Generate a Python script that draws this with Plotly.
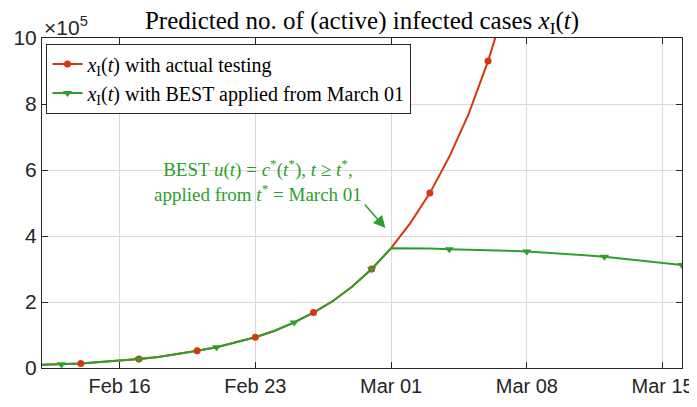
import plotly.graph_objects as go
import pandas as pd

# Dates (2020) and values in units of 1e5
dates_actual = pd.date_range("2020-02-12", "2020-03-08", freq="D")
actual_vals = [0.10, 0.11, 0.14, 0.18, 0.22, 0.27, 0.33, 0.42, 0.52, 0.63,
               0.77, 0.93, 1.13, 1.38, 1.68, 2.03, 2.47, 3.00, 3.63, 4.40,
               5.30, 6.40, 7.70, 9.30, 11.2, 13.5]

dates_best = pd.date_range("2020-02-12", "2020-03-16", freq="D")
best_vals = [0.10, 0.11, 0.14, 0.18, 0.22, 0.27, 0.33, 0.42, 0.52, 0.63,
             0.77, 0.93, 1.13, 1.38, 1.68, 2.03, 2.47, 3.00, 3.63, 3.63,
             3.62, 3.60, 3.59, 3.57, 3.55, 3.53, 3.50, 3.46, 3.42, 3.37,
             3.31, 3.25, 3.18, 3.12]

tick_dates = ["2020-02-16", "2020-02-23", "2020-03-01", "2020-03-08", "2020-03-15"]
tick_labels = ["Feb 16", "Feb 23", "Mar 01", "Mar 08", "Mar 15"]
y_ticks = [0, 2, 4, 6, 8, 10]

RED = "#D4380F"
GREEN = "#2CA02C"
AX = "#262626"
SERIF = "Liberation Serif"
SANS = "Liberation Sans"

# page body has an 8px default margin; figure is sized to fit the 697x407 window
W, H = 689, 391

xI = "<i>x</i><sub>I</sub>(<i>t</i>)"

fig = go.Figure()
# lines
fig.add_trace(go.Scatter(x=dates_actual, y=actual_vals, mode="lines",
                         line=dict(color=RED, width=2), showlegend=False, hoverinfo="skip"))
fig.add_trace(go.Scatter(x=dates_best, y=best_vals, mode="lines",
                         line=dict(color=GREEN, width=2), showlegend=False, hoverinfo="skip"))
# markers (every 3rd / 4th sample)
fig.add_trace(go.Scatter(x=dates_actual[2::3], y=actual_vals[2::3], mode="markers",
                         marker=dict(color=RED, size=7, symbol="circle"), showlegend=False))
fig.add_trace(go.Scatter(x=dates_best[1::4], y=best_vals[1::4], mode="markers",
                         marker=dict(color=GREEN, size=8, symbol="triangle-down"), showlegend=False))
# legend entries
fig.add_trace(go.Scatter(x=[None], y=[None], mode="lines+markers",
                         line=dict(color=RED, width=2), marker=dict(color=RED, size=7, symbol="circle"),
                         name=xI + " with actual testing"))
fig.add_trace(go.Scatter(x=[None], y=[None], mode="lines+markers",
                         line=dict(color=GREEN, width=2), marker=dict(color=GREEN, size=8, symbol="triangle-down"),
                         name=xI + " with BEST applied from March 01"))

fig.update_layout(
    width=W, height=H,
    margin=dict(l=34, r=15, t=30, b=31, autoexpand=False),
    paper_bgcolor="white", plot_bgcolor="white",
    title=dict(text="Predicted no. of (active) infected cases " + xI,
               font=dict(family=SERIF, size=25, color="black"),
               x=0.5, xref="paper", xanchor="center",
               y=1 - 12 / H, yref="container", yanchor="middle"),
    legend=dict(x=0.007, y=0.983, xanchor="left", yanchor="top",
                bgcolor="white", bordercolor=AX, borderwidth=1,
                font=dict(family=SERIF, size=20, color="black"),
                tracegroupgap=0, itemwidth=30),
    xaxis=dict(type="date", range=["2020-02-12", "2020-03-16"],
               tickvals=tick_dates, ticktext=tick_labels, automargin=False,
               ticklabeloverflow="allow",
               tickfont=dict(family=SANS, size=20, color=AX),
               ticks="inside", ticklen=6, tickcolor=AX,
               showline=True, linecolor=AX, linewidth=1, mirror="ticks",
               showgrid=True, gridcolor="#d9d9d9", gridwidth=1, zeroline=False),
    yaxis=dict(range=[0, 10], tickvals=y_ticks, automargin=False,
               tickfont=dict(family=SANS, size=21, color=AX),
               ticks="inside", ticklen=6, tickcolor=AX,
               showline=True, linecolor=AX, linewidth=1, mirror="ticks",
               showgrid=True, gridcolor="#d9d9d9", gridwidth=1, zeroline=False),
)

# exponent label
fig.add_annotation(text="×10<sup>5</sup>", xref="paper", yref="paper",
                   x=0.0, y=1.0, xanchor="left", yanchor="bottom", showarrow=False,
                   font=dict(family=SANS, size=21, color=AX), yshift=-3)

# text annotation
fig.add_annotation(
    text="BEST <i>u</i>(<i>t</i>) = <i>c</i><sup>*</sup>(<i>t</i><sup>*</sup>), <i>t</i> ≥ <i>t</i><sup>*</sup>,<br>"
         "applied from <i>t</i><sup>*</sup> = March 01",
    x="2020-02-23 03:00", y=5.67, xref="x", yref="y", showarrow=False,
    font=dict(family=SERIF, size=19, color=GREEN), align="center")
# arrow
fig.add_annotation(text="", x="2020-02-29 17:00", y=4.24, xref="x", yref="y",
                   ax=-22, ay=-25, showarrow=True, arrowhead=2, arrowsize=1.5,
                   arrowwidth=1.6, arrowcolor=GREEN)

fig.write_html("out.html")
